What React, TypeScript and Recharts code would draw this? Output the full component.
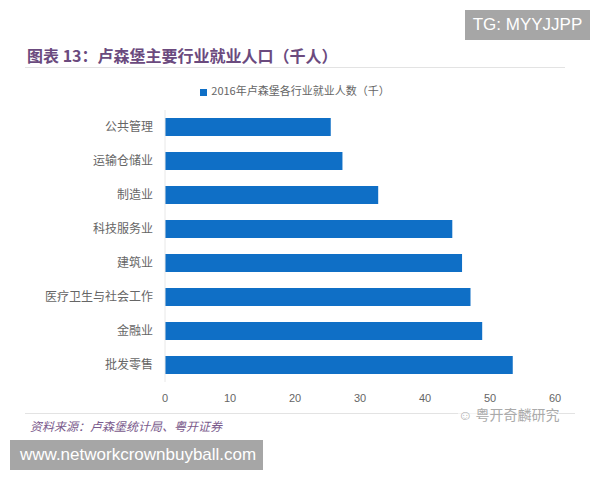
import React from 'react';
import { BarChart, Bar, XAxis, YAxis, Legend } from 'recharts';

const categories = ['公共管理', '运输仓储业', '制造业', '科技服务业', '建筑业', '医疗卫生与社会工作', '金融业', '批发零售'];
const values = [25.5, 27.3, 32.8, 44.2, 45.7, 47.0, 48.8, 53.5];
const xTicks = [0, 10, 20, 30, 40, 50, 60];
const seriesName = '2016年卢森堡各行业就业人数（千）';

const data = categories.map((c, i) => ({ name: c, value: values[i] }));

const cjk = '"Noto Sans CJK SC", "Noto Sans", sans-serif';

export default function App() {
  return (
    <div style={{ position: 'absolute', left: 0, top: 0, width: 600, height: 480, background: '#fff', fontFamily: cjk }}>
      <div style={{ position: 'absolute', left: 465, top: 10, width: 125, height: 30, background: '#a6a6a6', color: '#fff', fontFamily: 'Arial, "Liberation Sans", sans-serif', fontSize: 17, lineHeight: '30px', textAlign: 'center' }}>TG: MYYJJPP</div>
      <div style={{ position: 'absolute', left: 27, top: 44, color: '#6b4a7e', fontSize: 16, fontWeight: 700, lineHeight: '22px', whiteSpace: 'nowrap' }}>图表 13：卢森堡主要行业就业人口（千人）</div>
      <div style={{ position: 'absolute', left: 25, top: 67, width: 540, height: 1, background: '#e3e3e3' }} />
      <BarChart width={600} height={480} data={data} layout="vertical" margin={{ top: 94, right: 45, bottom: 68, left: 0 }}>
        <XAxis type="number" domain={[0, 60]} ticks={xTicks} axisLine={false} tickLine={false} height={30} tickMargin={6} tick={{ fill: '#666', fontSize: 11, fontFamily: 'Arial, "Liberation Sans", sans-serif' }} />
        <YAxis type="category" dataKey="name" width={165} axisLine={{ stroke: '#e8e8e8' }} tickLine={false} tickMargin={6} tick={{ fill: '#666', fontSize: 12, fontFamily: cjk }} />
        <Legend verticalAlign="top" align="center" iconType="square" iconSize={7} wrapperStyle={{ top: 82, left: 0, width: 600, fontSize: 11, color: '#666' }} formatter={(v) => <span style={{ color: '#666' }}>{v}</span>} />
        <Bar dataKey="value" name={seriesName} fill="#0f6fc6" barSize={18} isAnimationActive={false} />
      </BarChart>
      <div style={{ position: 'absolute', left: 25, top: 413, width: 550, height: 1, background: '#e3e3e3' }} />
      <div style={{ position: 'absolute', left: 30, top: 417, color: '#7a5a8c', fontSize: 12, fontStyle: 'italic', lineHeight: '18px', whiteSpace: 'nowrap' }}>资料来源：卢森堡统计局、粤开证券</div>
      <div style={{ position: 'absolute', left: 458, top: 404, color: '#aaa', fontSize: 14, lineHeight: '20px', whiteSpace: 'nowrap', background: 'rgba(255,255,255,0.6)' }}>☺ 粤开奇麟研究</div>
      <div style={{ position: 'absolute', left: 10, top: 440, width: 253, height: 30, background: '#a6a6a6', color: '#fff', fontFamily: 'Arial, "Liberation Sans", sans-serif', fontSize: 17, lineHeight: '30px', paddingLeft: 10, boxSizing: 'border-box', whiteSpace: 'nowrap' }}>www.networkcrownbuyball.com</div>
    </div>
  );
}
